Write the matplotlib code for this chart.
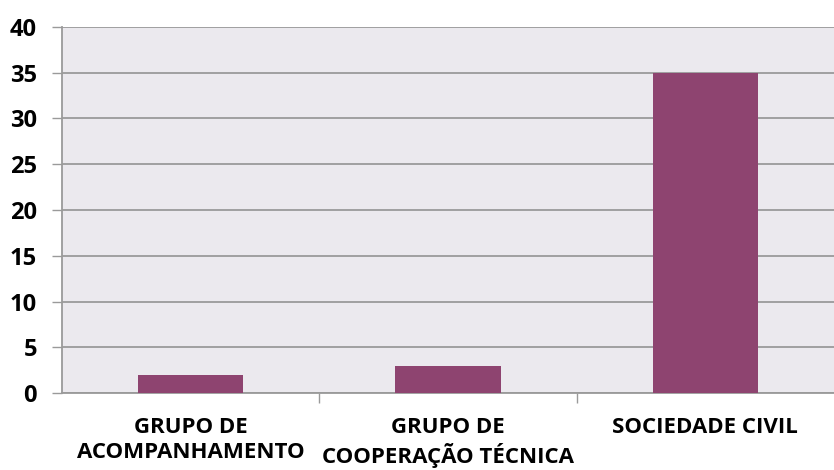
import numpy as np
import matplotlib.pyplot as plt

categories = ["GRUPO DE\nACOMPANHAMENTO", "GRUPO DE\nCOOPERAÇÃO TÉCNICA", "SOCIEDADE CIVIL"]
values = [2, 3, 35]
yticks = [0, 5, 10, 15, 20, 25, 30, 35, 40]

plt.rcParams['font.family'] = ['Open Sans', 'DejaVu Sans']

fig = plt.figure(figsize=(8.34, 4.70), dpi=100)
ax = fig.add_axes([0.0743, 0.1638, 0.9257, 0.7788])
ax.set_facecolor("#ebe9ee")

x = np.arange(len(categories))
ax.bar(x, values, width=0.41, color="#8e4470", zorder=3)

ax.set_xlim(-0.5, len(categories) - 0.5)
ax.set_ylim(0, 40)
ax.set_yticks(yticks)
ax.set_yticklabels([str(t) for t in yticks], fontsize=17, fontweight='bold')
ax.yaxis.grid(True, color="#9a9a9a", linewidth=1.3, zorder=1)
ax.tick_params(axis='y', length=7, width=1, color="#9a9a9a", pad=11)

# category labels, tick marks between categories
ax.set_xticks(x)
ax.set_xticklabels(categories, fontsize=16, fontweight='bold', linespacing=1.27)
ax.tick_params(axis='x', length=0, pad=17)
ax.set_xticks([0.5, 1.5], minor=True)
ax.tick_params(axis='x', which='minor', length=7, width=1, color="#9a9a9a")

for side in ['top', 'right']:
    ax.spines[side].set_visible(False)
for side in ['left', 'bottom']:
    ax.spines[side].set_color("#9a9a9a")
    ax.spines[side].set_linewidth(1.3)

fig.savefig("out.png", dpi=100)
